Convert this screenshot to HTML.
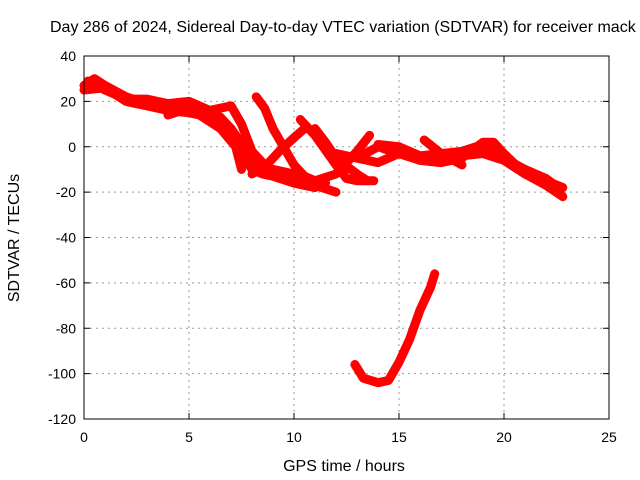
<!DOCTYPE html>
<html><head><meta charset="utf-8"><style>
body{margin:0;background:#fff}
svg{display:block;font-family:"Liberation Sans",sans-serif}
</style></head><body>
<svg id="c" width="640" height="480" xmlns="http://www.w3.org/2000/svg">
<rect width="640" height="480" fill="#fff"/>
<text x="50" y="32" font-size="16">Day 286 of 2024, Sidereal Day-to-day VTEC variation (SDTVAR) for receiver mack</text>
<text x="344" y="471" font-size="16" text-anchor="middle">GPS time / hours</text>
<text transform="translate(19,238) rotate(-90)" font-size="16" text-anchor="middle">SDTVAR / TECUs</text>
<g id="grid"></g><g id="ticks"></g><g id="marks"></g>
<rect x="84" y="56" width="525" height="363" fill="none" stroke="#000" stroke-width="1"/>
</svg>
<script>
const xTicks=[0,5,10,15,20,25];
const yTicks=[40,20,0,-20,-40,-60,-80,-100,-120];
const trackX=[
[0,0.5,1,2,3,4,5,6,6.5,7,7.5],
[0,1,2,3,4,5,5.5,6.5,7.5,8,8.5,9],
[0.2,1,2,3,4,5,6,7,7.5,8,9,10,11,12],
[4,5,6,7,8,8.5,9,10,11],
[8.2,8.6,9,9.5,10,10.5,11,11.5],
[8,8.7,9.3,10,10.5],
[10.3,11,12,12.5,13,13.8],
[11,11.5,12,13,13.5],
[9,10,11,12,13,13.6],
[12,13,14,15,16,17,18,19,20,21,22,22.8],
[13,14,15,16,17,18,19,19.5,20,21,22,22.8],
[14,15,16,17,18,19,20,21,22,22.6],
[16.2,17,18],
[12.9,13.3,14,14.5,15,15.5,16,16.5,16.7]
];
const trackY=[
[27,30,27,22,19,17,18,15,13,8,-10],
[25,26,20,18,16,15,14,8,-3,-10,-12,-10],
[29,25,21,21,19,20,16,18,10,-2,-12,-14,-17,-20],
[14,17,12,8,-5,-12,-13,-16,-18],
[22,17,8,0,-8,-13,-15,-16],
[-12,-8,-2,4,8],
[12,5,-8,-14,-15,-15],
[8,2,-5,-12,-15],
[-10,-12,-15,-12,-2,5],
[-3,-5,0,-3,-5,-5,-4,-3,-6,-12,-15,-18],
[-5,-7,-3,-6,-7,-5,2,2,-3,-12,-17,-22],
[1,0,-4,-3,-2,1,-5,-10,-14,-18],
[3,-3,-8],
[-96,-102,-104,-103,-95,-85,-72,-62,-56]
];
const NS="http://www.w3.org/2000/svg";
const X=h=>84+h*21, Y=v=>56+(40-v)*363/160;
function mk(tag,at,parent){const e=document.createElementNS(NS,tag);for(const k in at)e.setAttribute(k,at[k]);document.getElementById(parent).appendChild(e);return e;}
xTicks.forEach(t=>{
 if(t>0&&t<25){const g=mk('line',{x1:X(t),x2:X(t),y1:56,y2:419,stroke:'#999','stroke-dasharray':'2,4'},'grid');
 
 }
 mk('line',{x1:X(t),x2:X(t),y1:419,y2:413,stroke:'#000'},'ticks');
 mk('line',{x1:X(t),x2:X(t),y1:56,y2:62,stroke:'#000'},'ticks');
 const l=mk('text',{x:X(t),y:442,'font-size':14,'text-anchor':'middle'},'ticks');l.textContent=t;
 
 
});
yTicks.forEach(t=>{
 if(t<40&&t>-120){const g=mk('line',{x1:84,x2:609,y1:Y(t),y2:Y(t),stroke:'#999','stroke-dasharray':'2,4'},'grid');
 
 }
 mk('line',{x1:84,x2:90,y1:Y(t),y2:Y(t),stroke:'#000'},'ticks');
 mk('line',{x1:603,x2:609,y1:Y(t),y2:Y(t),stroke:'#000'},'ticks');
 const l=mk('text',{x:76,y:Y(t)+5,'font-size':14,'text-anchor':'end'},'ticks');l.textContent=t;
 
 
});
trackX.forEach((xs,i)=>{
 const pts=xs.map((x,j)=>X(x)+','+Y(trackY[i][j])).join(' ');
 const p=mk('polyline',{points:pts,fill:'none',stroke:'#f00','stroke-width':9,'stroke-linejoin':'round','stroke-linecap':'round'},'marks');
 
 
});
</script>
</body></html>
